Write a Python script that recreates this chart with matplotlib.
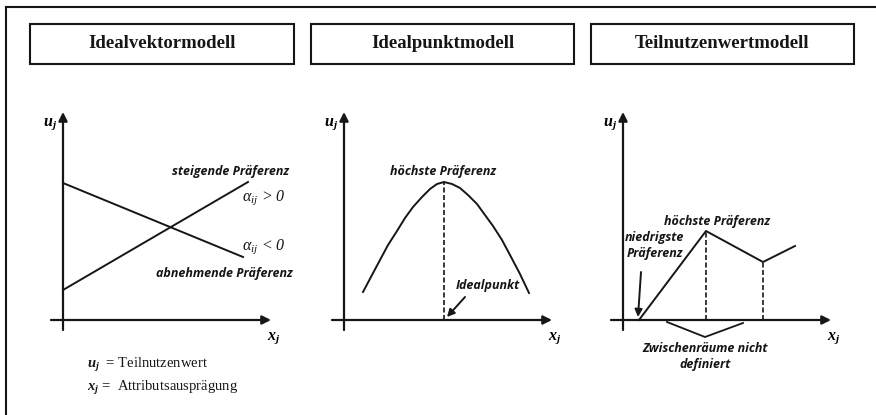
import matplotlib
matplotlib.use("Agg")
import matplotlib.pyplot as plt
from matplotlib.patches import Rectangle

plt.rcParams["mathtext.fontset"] = "custom"
plt.rcParams["mathtext.it"] = "Liberation Serif:italic"
plt.rcParams["mathtext.rm"] = "Liberation Serif"
plt.rcParams["mathtext.bf"] = "Liberation Serif:bold:italic"

# --- Daten (lokale Einheiten, Ursprung = Achsenkreuz) ---
titles = ["Idealvektormodell", "Idealpunktmodell", "Teilnutzenwertmodell"]

# Idealvektormodell
vec_x = [0, 185]
vec_up = [30, 138]      # steigende Präferenz
vec_down = [137, 63]    # abnehmende Präferenz (x bis 180)
vec_down_x = [0, 180]

# Idealpunktmodell
pkt_x = [19, 28, 36, 44, 53, 61, 69, 78, 86, 93, 100, 108, 116, 124, 133, 141, 149, 158, 166, 176, 185]
pkt_y = [28, 45, 60, 75, 89, 102, 113, 123, 131, 136, 138, 136, 132, 125, 116, 105, 94, 80, 65, 46, 27]
ideal_x = 100

# Teilnutzenwertmodell
tn_x = [16, 83, 140, 172]
tn_y = [0, 89, 58, 74]
tn_dashed = [83, 140]
brace_x = [44, 82, 120]
brace_y = [-2, -17, -3]

W, H = 876, 415
fig = plt.figure(figsize=(W / 100, H / 100), dpi=100)
fig.patch.set_facecolor("white")

bg = fig.add_axes([0, 0, 1, 1])
bg.set_xlim(0, W)
bg.set_ylim(H, 0)
bg.axis("off")

ink = "#161616"
# äußerer Rahmen (rechts/unten abgeschnitten)
bg.plot([6, W + 5], [7, 7], color=ink, lw=1.5)
bg.plot([6, 6], [7, H + 5], color=ink, lw=1.5)

box_left = [30, 311, 591]
box_right = [294, 574, 854]
for t, l, r in zip(titles, box_left, box_right):
    bg.add_patch(Rectangle((l, 24), r - l, 40, fill=False, ec=ink, lw=1.5))
    bg.text((l + r) / 2, 44, t, ha="center", va="center", fontsize=13.5,
            fontweight="bold", family="Liberation Serif", color=ink)

lab = dict(family="Open Sans", style="italic", fontweight="bold", fontsize=9, color=ink)
alpha_kw = dict(fontsize=11.5, style="italic", family="Liberation Serif", color=ink)


def panel(ox, oy):
    ax = fig.add_axes([(ox - 60) / W, (H - oy - 80) / H, 310 / W, 310 / H])
    ax.set_xlim(-60, 250)
    ax.set_ylim(-80, 230)
    ax.axis("off")
    ax.patch.set_alpha(0)
    arr = dict(arrowstyle="-|>", mutation_scale=13, lw=1.6, color=ink,
               shrinkA=0, shrinkB=0)
    ax.annotate("", xy=(0, 208), xytext=(0, -10), arrowprops=arr)
    ax.annotate("", xy=(208, 0), xytext=(-12, 0), arrowprops=arr)
    ax.text(-13, 196, r"$\mathbf{u_j}$", ha="center", va="center", fontsize=11.5)
    ax.text(211, -18, r"$\mathbf{x_j}$", ha="center", va="center", fontsize=11.5)
    return ax


# Panel 1
a1 = panel(63, 320)
a1.plot(vec_x, vec_up, color=ink, lw=1.4)
a1.plot(vec_down_x, vec_down, color=ink, lw=1.4)
a1.text(168, 148, "steigende Präferenz", ha="center", va="center", **lab)
a1.text(179, 122, r"$\alpha_{ij}$ > 0", ha="left", va="center", **alpha_kw)
a1.text(179, 73, r"$\alpha_{ij}$ < 0", ha="left", va="center", **alpha_kw)
a1.text(161, 47, "abnehmende Präferenz", ha="center", va="center", **lab)
a1.text(24, -45, r"$\mathbf{u_j}$  = Teilnutzenwert", ha="left", va="center",
        fontsize=10.5, family="Liberation Serif", color=ink)
a1.text(24, -68, r"$\mathbf{x_j}$ =  Attributsausprägung", ha="left", va="center",
        fontsize=10.5, family="Liberation Serif", color=ink)

# Panel 2
a2 = panel(344, 320)
a2.plot(pkt_x, pkt_y, color=ink, lw=1.4)
a2.plot([ideal_x, ideal_x], [0, max(pkt_y)], color=ink, lw=1.2, ls=(0, (3, 1.5)))
a2.text(99, 148, "höchste Präferenz", ha="center", va="center", **lab)
a2.text(144, 35, "Idealpunkt", ha="center", va="center", **lab)
a2.annotate("", xy=(ideal_x + 3, 3), xytext=(121, 23),
            arrowprops=dict(arrowstyle="-|>", mutation_scale=11, lw=1.4, color=ink,
                            shrinkA=0, shrinkB=0))

# Panel 3
a3 = panel(623, 320)
a3.plot(tn_x, tn_y, color=ink, lw=1.4)
for xd in tn_dashed:
    a3.plot([xd, xd], [0, tn_y[tn_x.index(xd)]], color=ink, lw=1.2, ls=(0, (3, 1.5)))
a3.plot(brace_x, brace_y, color=ink, lw=1.3)
a3.text(94, 99, "höchste Präferenz", ha="center", va="center", **lab)
a3.text(31, 83, "niedrigste", ha="center", va="center", **lab)
a3.text(32, 66, "Präferenz", ha="center", va="center", **lab)
a3.annotate("", xy=(tn_x[0] - 1, 3), xytext=(18, 48),
            arrowprops=dict(arrowstyle="-|>", mutation_scale=11, lw=1.4, color=ink,
                            shrinkA=0, shrinkB=0))
a3.text(82, -28, "Zwischenräume nicht", ha="center", va="center", **lab)
a3.text(82, -44, "definiert", ha="center", va="center", **lab)

fig.savefig("out.png", dpi=100, facecolor="white")
